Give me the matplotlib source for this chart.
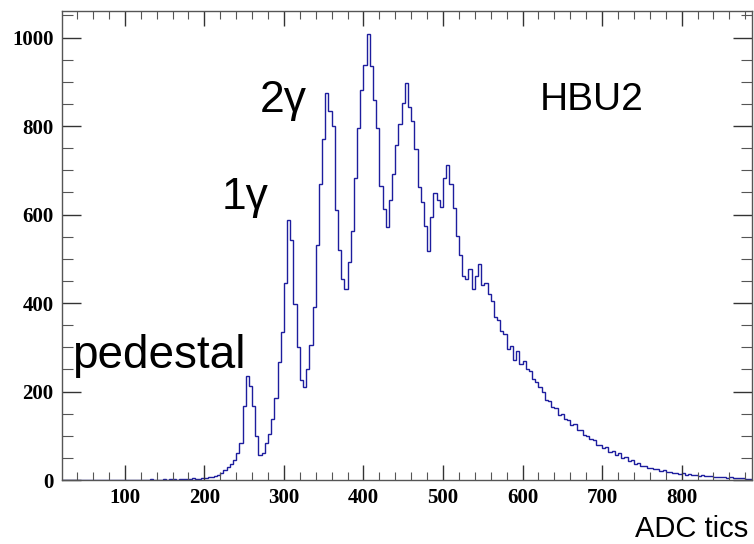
import numpy as np
import matplotlib
matplotlib.use("Agg")
import matplotlib.pyplot as plt
from matplotlib.ticker import MultipleLocator

# histogram: 4 ADC-tic bins from 20 to 888, counts
bin_start, bin_width = 20, 4
counts_020 = [0, 0, 0, 0, 0, 0, 0, 0, 0, 0, 0, 0, 1, 0, 0, 0, 0, 0, 0, 0, 0, 0, 0, 0, 1]
counts_120 = [0, 1, 0, 2, 1, 0, 1, 3, 1, 2, 2, 1, 3, 2, 2, 3, 4, 3, 2, 5, 4, 6, 7, 9, 12]
counts_220 = [15, 22, 30, 36, 46, 62, 84, 168, 236, 212, 168, 100, 56, 62, 84, 104, 138, 185, 266, 335,
              445, 588, 542, 398, 300]
counts_320 = [225, 210, 252, 305, 392, 532, 670, 770, 875, 835, 800, 610, 520, 455, 432, 492, 562, 682, 795, 882,
              938, 1008, 935, 858, 795]
counts_420 = [665, 612, 572, 632, 692, 758, 805, 852, 898, 842, 812, 748, 662, 628, 575, 518, 595, 648, 632, 618,
              682, 712, 668, 615, 552]
counts_520 = [508, 462, 455, 478, 432, 462, 488, 440, 446, 420, 405, 368, 362, 336, 330, 296, 304, 272, 292, 262,
              270, 250, 246, 228, 222]
counts_620 = [210, 200, 182, 178, 164, 162, 148, 150, 138, 136, 124, 126, 114, 114, 102, 100, 92, 90, 80, 80,
              72, 74, 64, 66, 56]
counts_720 = [60, 50, 52, 42, 46, 36, 38, 32, 32, 28, 28, 24, 25, 21, 23, 18, 19, 16, 16, 14, 15, 12, 13, 11, 12]
counts_820 = [10, 11, 9, 8, 9, 7, 7, 6, 6, 5, 6, 5, 4, 5, 4, 3, 3]

# peak labels: (text, ADC, counts at baseline)
labels = [("pedestal", 33, 253), ("1γ", 222, 613), ("2γ", 270, 832), ("HBU2", 622, 837)]
label_size = {"pedestal": 33, "1γ": 32, "2γ": 32, "HBU2": 28}

counts = np.array(counts_020 + counts_120 + counts_220 + counts_320 + counts_420 +
                  counts_520 + counts_620 + counts_720 + counts_820, dtype=float)
edges = bin_start + bin_width * np.arange(len(counts) + 1)

SERIF = ["Liberation Serif", "DejaVu Serif"]
SANS = ["Liberation Sans", "DejaVu Sans"]

fig = plt.figure(figsize=(7.54, 5.44), dpi=100)
ax = fig.add_axes([0.0822, 0.1176, 0.9147, 0.8621])
ax.stairs(counts, edges, color="#1d1d9e", linewidth=1.0, baseline=None)
ax.set_xlim(21, 888); ax.set_ylim(0, 1060)

ax.xaxis.set_major_locator(MultipleLocator(100)); ax.xaxis.set_minor_locator(MultipleLocator(20))
ax.yaxis.set_major_locator(MultipleLocator(200)); ax.yaxis.set_minor_locator(MultipleLocator(50))
ax.tick_params(axis="x", which="major", direction="in", length=11, width=1, top=True, color="#333333", pad=6)
ax.tick_params(axis="x", which="minor", direction="in", length=5.5, width=0.8, top=True, color="#555555")
ax.tick_params(axis="y", which="major", direction="in", length=14, width=1, right=True, color="#333333", pad=6)
ax.tick_params(axis="y", which="minor", direction="in", length=8, width=0.8, right=True, color="#555555")
for lab in ax.get_xticklabels() + ax.get_yticklabels():
    lab.set_family(SERIF); lab.set_fontweight("bold"); lab.set_fontsize(15)
for sp in ax.spines.values():
    sp.set_color("#555555"); sp.set_linewidth(1.0)

for txt, x, y in labels:
    ax.text(x, y, txt, family=SANS, fontsize=label_size[txt], ha="left", va="baseline", color="black")
fig.text(748 / 754, 1 - 537 / 544, "ADC tics", family=SANS, fontsize=21, ha="right", va="baseline")

fig.savefig("out.png", dpi=100)
